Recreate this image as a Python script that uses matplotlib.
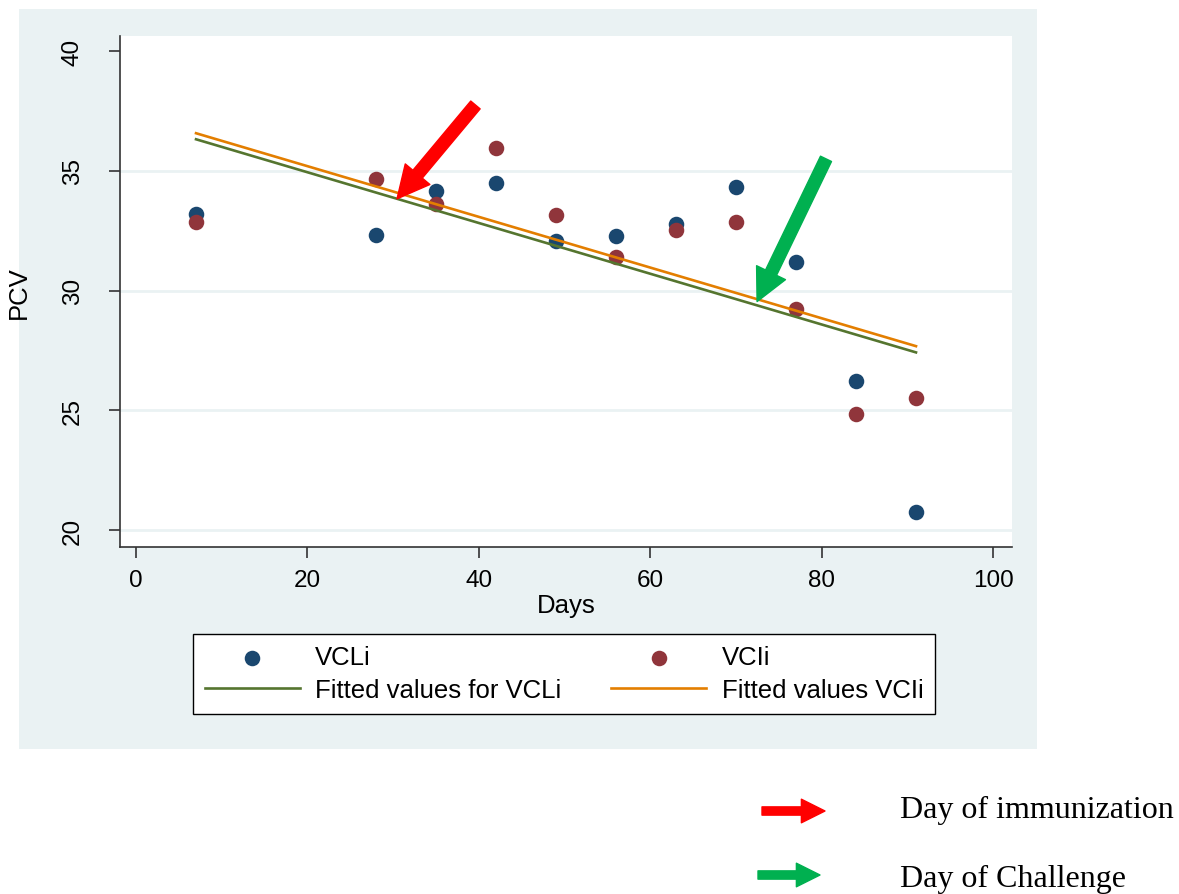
import numpy as np
import matplotlib
matplotlib.use('Agg')
import matplotlib.pyplot as plt
from matplotlib.patches import Rectangle

plt.rcParams['font.family'] = ['Liberation Sans', 'DejaVu Sans']

# data
days = [7, 28, 35, 42, 49, 56, 63, 70, 77, 84, 91]
pcv_vcli_blue = [33.2, 32.33, 34.17, 34.5, 32.08, 32.29, 32.79, 34.33, 31.21, 26.21, 20.75]
pcv_vcli_red = [32.88, 34.67, 33.63, 35.96, 33.17, 31.42, 32.54, 32.88, 29.21, 24.83, 25.5]
x_ticks = [0, 20, 40, 60, 80, 100]
y_ticks = [20, 25, 30, 35, 40]

BLUE = '#1a476f'
MAROON = '#90353b'
GREEN = '#55752f'
ORANGE = '#e37e00'
BG = '#eaf2f3'

fig = plt.figure(figsize=[11.79, 8.95], dpi=100)

# Stata graph region
fig.patches.append(Rectangle((19 / 1179, 1 - 750 / 895), 1018 / 1179, 740 / 895,
                             transform=fig.transFigure, facecolor=BG, edgecolor='none', zorder=-5))

ax = fig.add_axes([120 / 1179, 1 - 548 / 895, 892 / 1179, 511 / 895])
ax.set_facecolor('white')

x = np.array(days, dtype=float)
# linear fits
fit_b = np.polyfit(x, pcv_vcli_blue, 1)
fit_r = np.polyfit(x, pcv_vcli_red, 1)

ax.scatter(days, pcv_vcli_blue, s=125, color=BLUE, zorder=3, label='VCLi', linewidths=0)
ax.plot(x, np.polyval(fit_b, x), color=GREEN, lw=1.9, zorder=4, label='Fitted values for VCLi')
ax.scatter(days, pcv_vcli_red, s=125, color=MAROON, zorder=3, label='VCIi', linewidths=0)
ax.plot(x, np.polyval(fit_r, x), color=ORANGE, lw=1.9, zorder=4, label='Fitted values VCIi')

ax.set_xlim(-1.87, 102.2)
ax.set_ylim(19.29, 40.63)
ax.set_xticks(x_ticks)
ax.set_yticks(y_ticks)
ax.tick_params(axis='both', labelsize=17.5, length=8, width=1.2, color='#333333')
ax.tick_params(axis='x', pad=8)
ax.tick_params(axis='y', pad=18)
for lab in ax.get_yticklabels():
    lab.set_rotation(90)
    lab.set_va('center')

ax.grid(axis='y', color=BG, lw=2)
ax.yaxis.get_gridlines()[-1].set_visible(False)
ax.set_axisbelow(True)

for s in ['top', 'right']:
    ax.spines[s].set_visible(False)
for s in ['left', 'bottom']:
    ax.spines[s].set_color('#333333')
    ax.spines[s].set_linewidth(1.2)

ax.set_xlabel('Days', fontsize=18.5, labelpad=1)
ax.set_ylabel('PCV', fontsize=18.5, labelpad=22)

# arrows inside plot
ax.annotate('', xy=(30.45, 33.83), xytext=(39.6, 37.75),
            arrowprops=dict(arrowstyle='simple,head_length=1.05,head_width=1.05,tail_width=0.4',
                            mutation_scale=22, color='#ff0000', shrinkA=0, shrinkB=0), zorder=5)
ax.annotate('', xy=(72.46, 29.54), xytext=(80.5, 35.5),
            arrowprops=dict(arrowstyle='simple,head_length=1.05,head_width=1.05,tail_width=0.4',
                            mutation_scale=22, color='#00b050', shrinkA=0, shrinkB=0), zorder=5)

leg = ax.legend(ncol=2, loc='lower left', mode='expand',
                bbox_to_anchor=(193 / 1179, 1 - 715 / 895, 742 / 1179, 84 / 895),
                bbox_transform=fig.transFigure, fontsize=18.5, frameon=True, fancybox=False,
                framealpha=1, handlelength=3.7, handletextpad=0.6, borderpad=0.45,
                labelspacing=0.35, scatterpoints=1, borderaxespad=0)
leg.get_frame().set_edgecolor('black')
leg.get_frame().set_linewidth(1.0)

# key below the chart
fig.text(900 / 1179, 1 - 810 / 895, 'Day of immunization', fontsize=23,
         family=['Liberation Serif', 'DejaVu Serif'], va='center', ha='left')
fig.text(900 / 1179, 1 - 879 / 895, 'Day of Challenge', fontsize=23,
         family=['Liberation Serif', 'DejaVu Serif'], va='center', ha='left')
ax.annotate('', xy=(825, 895 - 812), xytext=(762, 895 - 812), xycoords='figure pixels',
            textcoords='figure pixels',
            arrowprops=dict(arrowstyle='simple,head_length=1.0,head_width=1.0,tail_width=0.35',
                            mutation_scale=17, color='#ff0000', shrinkA=0, shrinkB=0),
            annotation_clip=False)
ax.annotate('', xy=(820, 895 - 876), xytext=(758, 895 - 876), xycoords='figure pixels',
            textcoords='figure pixels',
            arrowprops=dict(arrowstyle='simple,head_length=1.0,head_width=1.0,tail_width=0.35',
                            mutation_scale=17, color='#00b050', shrinkA=0, shrinkB=0),
            annotation_clip=False)

fig.savefig('out.png', dpi=100, facecolor='white')
